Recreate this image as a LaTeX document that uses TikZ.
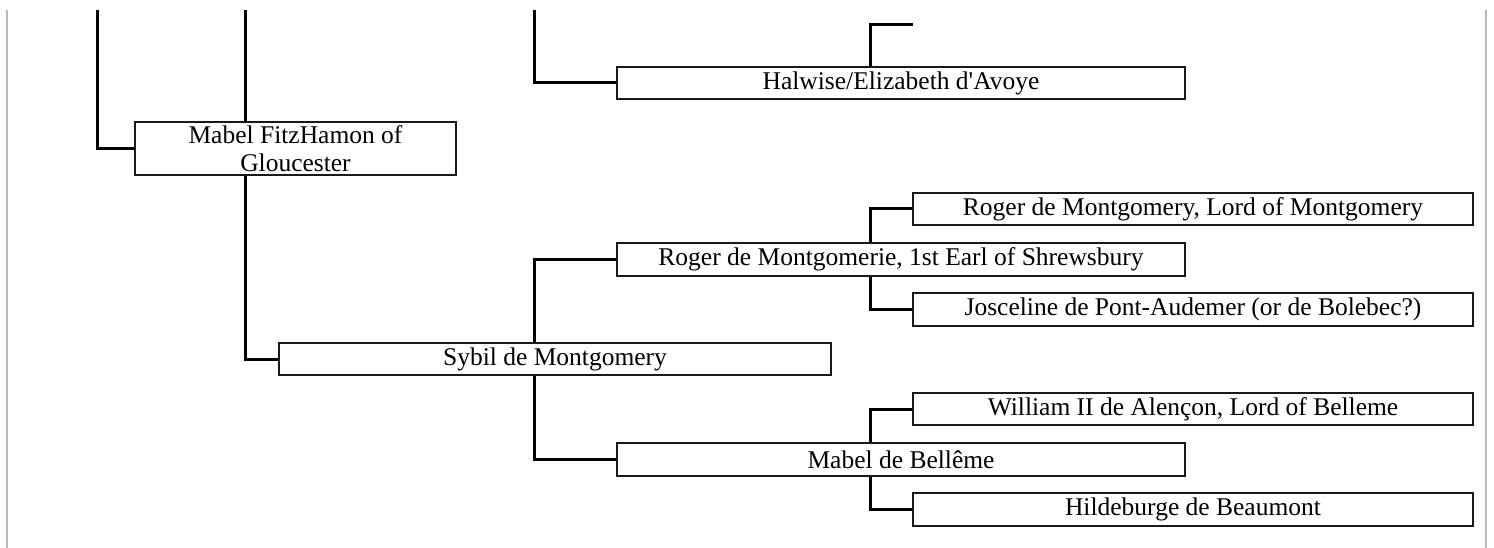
\documentclass[tikz,border=0pt]{standalone}
\usepackage{fontspec}
\setmainfont{Liberation Serif}
\begin{document}
\begin{tikzpicture}[x=1pt,y=-1pt,
  person/.style={draw=black!90, line width=2pt, fill=white, inner sep=0pt,
    font=\fontsize{25.5}{27.5}\selectfont, align=center},
  wide/.style={person, minimum width=568pt, minimum height=32.5pt},
  leaf/.style={person, minimum width=560pt, minimum height=32.5pt},
  link/.style={line width=3pt, black},
  frame/.style={line width=2.5pt, black!28}]
\useasboundingbox (0,0) rectangle (1494,548);
% frame lines
\draw[frame] (7,10) -- (7,548);
\draw[frame] (1486,10) -- (1486,548);
% free ends
\coordinate (t1) at (97,10);
\coordinate (t2) at (245,10);
\coordinate (t3) at (534,10);
\coordinate (t4) at (913,25);
% boxes
\node[person, minimum width=321pt, minimum height=53pt] (mfh) at (295.5,148.5) {Mabel FitzHamon of\\Gloucester};
\node[wide] (halw) at (901,83) {Halwise/Elizabeth d\textquotesingle Avoye};
\node[leaf] (rlm) at (1193,209) {Roger de Montgomery, Lord of Montgomery};
\node[wide] (rog) at (901,259.5) {Roger de Montgomerie, 1st Earl of Shrewsbury};
\node[leaf] (jos) at (1193,309.5) {Josceline de Pont-Audemer (or de Bolebec?)};
\node[person, minimum width=552pt, minimum height=32.5pt] (syb) at (555,359) {Sybil de Montgomery};
\node[leaf] (wil) at (1193,409) {William II de Alençon, Lord of Belleme};
\node[wide] (mbel) at (901,459.5) {Mabel de Bellême};
\node[leaf] (hil) at (1193,509.5) {Hildeburge de Beaumont};
% connectors
\draw[link] (t1) |- (mfh.west);
\draw[link] (t2) -- (t2 |- mfh.north);
\draw[link] (t2 |- mfh.south) |- (syb.west);
\draw[link] (t3) |- (halw.west);
\draw[link] (halw.north -| 870,0) |- (t4);
\draw[link] (syb.north -| t3) |- (rog.west);
\draw[link] (syb.south -| t3) |- (mbel.west);
\draw[link] (rog.north -| 870,0) |- (rlm.west);
\draw[link] (rog.south -| 870,0) |- (jos.west);
\draw[link] (mbel.north -| 870,0) |- (wil.west);
\draw[link] (mbel.south -| 870,0) |- (hil.west);
\end{tikzpicture}
\end{document}
